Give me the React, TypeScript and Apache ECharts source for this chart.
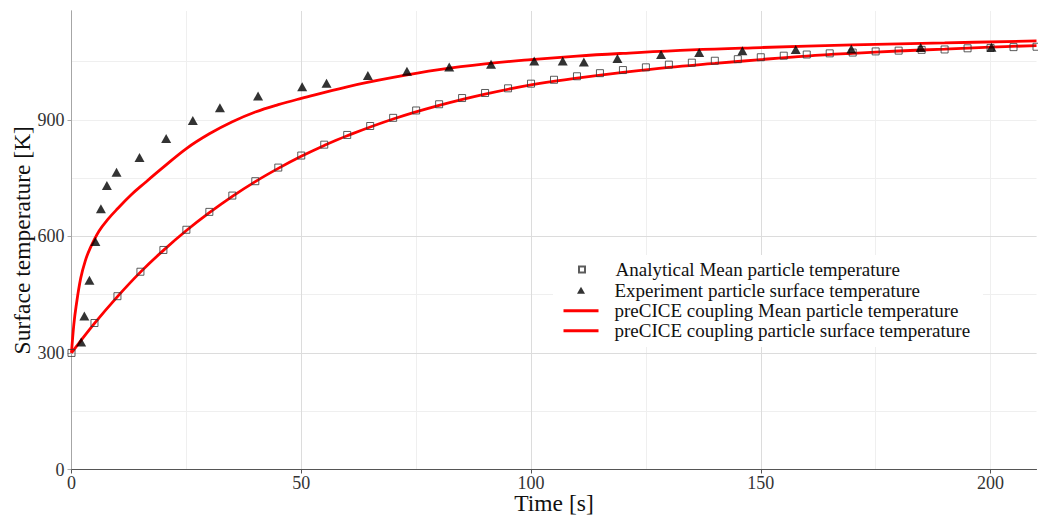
import React, { useEffect, useRef } from "react";
import * as echarts from "echarts";

const FONT = "Liberation Serif";

const seriesNames = [
  "Analytical Mean particle temperature",
  "Experiment particle surface temperature",
  "preCICE coupling Mean particle temperature",
  "preCICE coupling particle surface temperature",
];

const xTicks = [0, 50, 100, 150, 200];
const yTicks = [0, 300, 600, 900];

const analyticalTime = [
  0, 5, 10, 15, 20, 25, 30, 35, 40, 45, 50, 55, 60, 65, 70, 75, 80, 85, 90, 95, 100,
  105, 110, 115, 120, 125, 130, 135, 140, 145, 150, 155, 160, 165, 170, 175, 180,
  185, 190, 195, 200, 205, 210,
];
const analyticalTemp = [
  300, 377, 446, 509, 565, 617, 663, 705, 742, 777, 808, 836, 861, 884, 905, 924, 940,
  956, 969, 981, 993, 1003, 1012, 1020, 1028, 1035, 1042, 1047, 1052, 1056, 1061, 1065,
  1068, 1071, 1073, 1076, 1078, 1080, 1081, 1084, 1085, 1087, 1088,
];

const experimentTime = [
  2.1, 2.8, 3.9, 5.2, 6.4, 7.7, 9.8, 14.8, 20.6, 26.4, 32.3, 40.6, 50.2, 55.5, 64.5,
  73, 82.2, 91.3, 100.7, 106.9, 111.5, 118.8, 128.3, 136.6, 146, 157.6, 169.7, 184.8,
  200.2,
];
const experimentTemp = [
  328, 395, 487, 587, 671, 731, 765, 803, 852, 898, 931, 961, 985, 994, 1014, 1025,
  1036, 1043, 1051, 1051, 1049, 1058, 1068, 1073, 1078, 1081, 1082, 1086, 1087,
];

const meanTime = [
  0, 5, 10, 15, 20, 25, 30, 35, 40, 45, 50, 55, 60, 70, 80, 90, 100, 110, 120, 130,
  140, 150, 160, 170, 180, 190, 200, 210,
];
const meanTemp = [
  300, 376, 445, 508, 564, 615, 661, 703, 741, 775, 806, 834, 859, 902, 937, 966, 990,
  1007, 1022, 1035, 1045, 1055, 1064, 1071, 1077, 1082, 1087, 1091,
];

const surfaceTime = [
  0, 0.5, 1, 2, 3, 4, 6, 8, 10, 13, 16, 20, 25, 30, 35, 40, 45, 50, 60, 70, 80, 90,
  100, 110, 120, 135, 150, 170, 190, 210,
];
const surfaceTemp = [
  300, 372, 420, 492, 537, 568, 614, 645, 671, 707, 738, 778, 826, 864, 895, 920, 939,
  955, 985, 1009, 1029, 1044, 1055, 1064, 1071, 1080, 1086, 1093, 1098, 1103,
];

const zip = (a: number[], b: number[]) => a.map((v, i) => [v, b[i]]);

export default function App() {
  const ref = useRef<HTMLDivElement>(null);
  useEffect(() => {
    if (!ref.current) return;
    const chart = echarts.init(ref.current, undefined, { renderer: "svg" });
    const rowCenters = [270.5, 291.2, 311.7, 331.7];
    const legendCfg = [
      { icon: undefined, w: 6, h: 6, left: 578, pad: 25.5 },
      { icon: undefined, w: 8, h: 7, left: 577, pad: 24.5 },
      { icon: "rect", w: 35, h: 3, left: 563.5, pad: 11 },
      { icon: "rect", w: 35, h: 3, left: 563.5, pad: 11 },
    ];
    const option: any = {
      animation: false,
      backgroundColor: "#ffffff",
      grid: {
        left: 71.5,
        right: 1.5,
        top: 11,
        bottom: 48.5,
        containLabel: false,
        outerBoundsMode: "none",
      },
      graphic: [
        {
          type: "rect",
          z: 1.5,
          silent: true,
          shape: { x: 553, y: 255, width: 430, height: 92 },
          style: { fill: "#ffffff" },
        },
      ],
      legend: seriesNames.map((n, i) => {
        const c = legendCfg[i];
        const item: any = { name: n };
        if (c.icon) item.icon = c.icon;
        return {
          data: [item],
          left: c.left,
          top: rowCenters[i] - 10.5,
          orient: "vertical",
          padding: 0,
          itemWidth: c.w,
          itemHeight: c.h,
          selectedMode: false,
          z: 4,
          textStyle: {
            fontFamily: FONT,
            fontSize: 19,
            color: "#111",
            padding: [0, 0, 0, c.pad],
          },
        };
      }),
      xAxis: [
        {
          type: "value",
          min: 0,
          max: 210,
          interval: 50,
          z: 1,
          name: "Time [s]",
          nameLocation: "middle",
          nameGap: 23.5,
          nameMoveOverlap: false,
          nameTextStyle: { fontFamily: FONT, fontSize: 23.5, color: "#111", lineHeight: 20 },
          axisLine: { show: true, onZero: false, lineStyle: { color: "#555", width: 1 } },
          axisTick: { show: true, length: 4, customValues: xTicks, lineStyle: { color: "#555" } },
          axisLabel: {
            fontFamily: FONT,
            fontSize: 18,
            lineHeight: 17,
            color: "#333",
            margin: 5,
            customValues: xTicks,
            formatter: (v: number) => (xTicks.includes(v) ? String(v) : ""),
          },
          splitLine: {
            show: true,
            showMinLine: false,
            showMaxLine: false,
            lineStyle: { color: "#dcdcdc", width: 1 },
          },
        },
        {
          type: "value",
          min: 0,
          max: 210,
          interval: 25,
          position: "top",
          z: 0,
          axisLine: { show: true, lineStyle: { color: "#a6a6a6", width: 1 } },
          axisTick: { show: false },
          axisLabel: { show: false },
          splitLine: {
            show: true,
            showMinLine: false,
            showMaxLine: false,
            lineStyle: { color: "#efefef", width: 1 },
          },
        },
      ],
      yAxis: [
        {
          type: "value",
          min: 0,
          max: 1180,
          interval: 300,
          z: 1,
          name: "Surface temperature [K]",
          nameLocation: "middle",
          nameGap: 38,
          nameMoveOverlap: false,
          nameTextStyle: { fontFamily: FONT, fontSize: 23.5, color: "#111" },
          axisLine: { show: true, onZero: false, lineStyle: { color: "#a6a6a6", width: 1 } },
          axisTick: { show: true, length: 4, customValues: yTicks, lineStyle: { color: "#a6a6a6" } },
          axisLabel: {
            fontFamily: FONT,
            fontSize: 18,
            color: "#333",
            margin: 7,
            customValues: yTicks,
            formatter: (v: number) => (yTicks.includes(v) ? String(v) : ""),
          },
          splitLine: {
            show: true,
            showMinLine: false,
            showMaxLine: false,
            lineStyle: { color: "#dcdcdc", width: 1 },
          },
        },
        {
          type: "value",
          min: 0,
          max: 1180,
          interval: 150,
          position: "right",
          z: 0,
          axisLine: { show: true, lineStyle: { color: "#a6a6a6", width: 1 } },
          axisTick: { show: false },
          axisLabel: { show: false },
          splitLine: {
            show: true,
            showMinLine: false,
            showMaxLine: false,
            lineStyle: { color: "#efefef", width: 1 },
          },
        },
      ],
      series: [
        {
          name: seriesNames[2],
          type: "line",
          xAxisIndex: 0,
          yAxisIndex: 0,
          data: zip(meanTime, meanTemp),
          symbol: "none",
          smooth: 0.4,
          color: "#ff0000",
          lineStyle: { color: "#ff0000", width: 2.8 },
          z: 2,
        },
        {
          name: seriesNames[3],
          type: "line",
          xAxisIndex: 0,
          yAxisIndex: 0,
          data: zip(surfaceTime, surfaceTemp),
          symbol: "none",
          smooth: 0.4,
          color: "#ff0000",
          lineStyle: { color: "#ff0000", width: 2.8 },
          z: 2,
        },
        {
          name: seriesNames[0],
          type: "scatter",
          xAxisIndex: 0,
          yAxisIndex: 0,
          data: zip(analyticalTime, analyticalTemp),
          symbol: "rect",
          symbolSize: 7,
          itemStyle: { color: "rgba(255,255,255,0)", borderColor: "#333", borderWidth: 1 },
          z: 3,
        },
        {
          name: seriesNames[1],
          type: "scatter",
          xAxisIndex: 0,
          yAxisIndex: 0,
          data: zip(experimentTime, experimentTemp),
          symbol: "triangle",
          symbolSize: [10, 9],
          itemStyle: { color: "#000" },
          z: 3,
        },
      ],
    };
    chart.setOption(option);
    return () => chart.dispose();
  }, []);
  return (
    <div
      ref={ref}
      style={{ position: "absolute", left: 0, top: 0, width: 1038, height: 518 }}
    />
  );
}
